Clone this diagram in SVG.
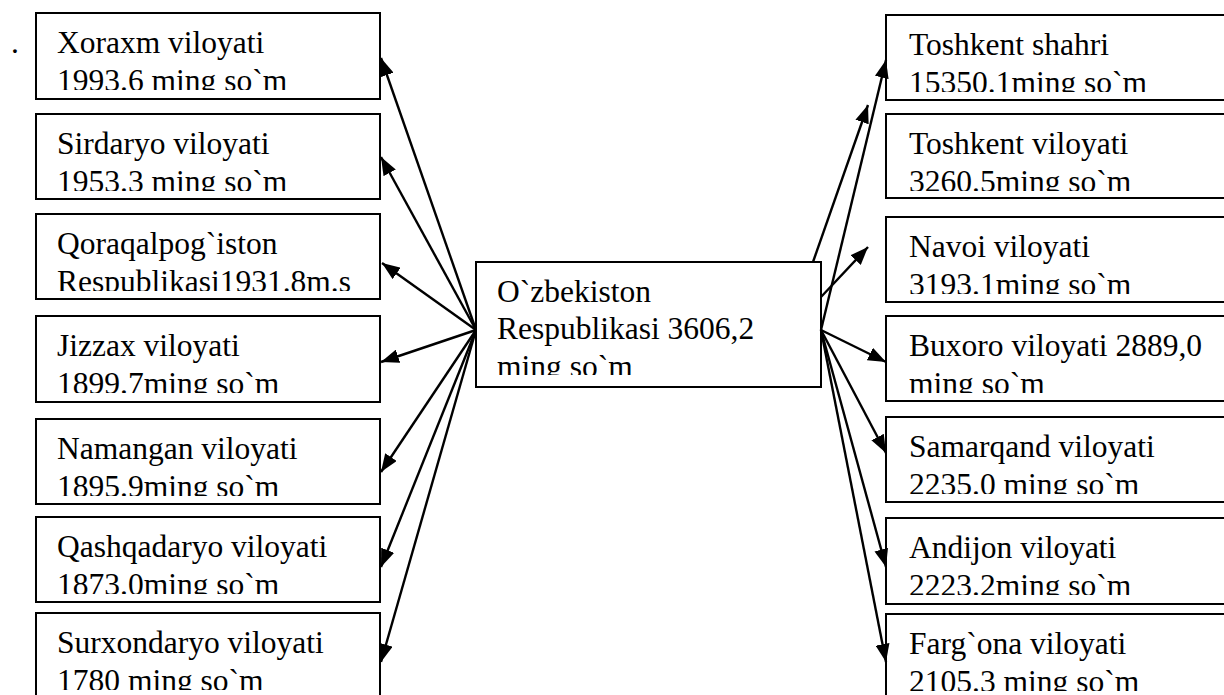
<svg xmlns="http://www.w3.org/2000/svg" width="1224" height="695" viewBox="0 0 1224 695">
<style>
.box{fill:#fff;stroke:#000;stroke-width:2}
.t{font-family:"Liberation Serif","Times New Roman",serif;font-size:31.5px;fill:#000}
.c{stroke:#000;stroke-width:2.4;fill:none;marker-end:url(#ah)}
</style>
<defs>
<marker id="ah" markerUnits="userSpaceOnUse" markerWidth="18" markerHeight="14" refX="18" refY="7" orient="auto">
<path d="M0,0 L18,7 L0,14 z" fill="#000"/>
</marker>
<clipPath id="k1"><rect x="36" y="13" width="344" height="77"/></clipPath>
<clipPath id="k2"><rect x="36" y="114" width="344" height="77"/></clipPath>
<clipPath id="k3"><rect x="36" y="214" width="344" height="77"/></clipPath>
<clipPath id="k4"><rect x="36" y="316" width="344" height="77"/></clipPath>
<clipPath id="k5"><rect x="36" y="419" width="344" height="77"/></clipPath>
<clipPath id="k6"><rect x="36" y="517" width="344" height="77"/></clipPath>
<clipPath id="k7"><rect x="36" y="613" width="344" height="77"/></clipPath>
<clipPath id="r1"><rect x="886" y="15" width="340" height="77"/></clipPath>
<clipPath id="r2"><rect x="886" y="114" width="340" height="77"/></clipPath>
<clipPath id="r3"><rect x="886" y="217" width="340" height="77"/></clipPath>
<clipPath id="r4"><rect x="886" y="316" width="340" height="77"/></clipPath>
<clipPath id="r5"><rect x="886" y="417" width="340" height="77"/></clipPath>
<clipPath id="r6"><rect x="886" y="518" width="340" height="77"/></clipPath>
<clipPath id="r7"><rect x="886" y="614" width="340" height="77"/></clipPath>
<clipPath id="kc"><rect x="476" y="262" width="345" height="113"/></clipPath>
</defs>
<rect width="1224" height="695" fill="#fff"/>
<text class="t" x="11" y="53">.</text>

<g id="center">
<rect class="box" x="476" y="262" width="345" height="125"/>
<text class="t" clip-path="url(#kc)"><tspan x="497" y="302">O`zbekiston</tspan><tspan x="497" y="338.5">Respublikasi 3606,2</tspan><tspan x="497" y="377">ming so`m</tspan></text>
</g>

<g id="xoraxm"><rect class="box" x="36" y="13" width="344" height="86"/><text class="t" clip-path="url(#k1)"><tspan x="57" y="53">Xoraxm viloyati</tspan><tspan x="57" y="91">1993.6 ming so`m</tspan></text></g>
<g id="sirdaryo"><rect class="box" x="36" y="114" width="344" height="85"/><text class="t" clip-path="url(#k2)"><tspan x="57" y="154">Sirdaryo viloyati</tspan><tspan x="57" y="192">1953.3 ming so`m</tspan></text></g>
<g id="qoraqalpogiston"><rect class="box" x="36" y="214" width="344" height="85"/><text class="t" clip-path="url(#k3)"><tspan x="57" y="254">Qoraqalpog`iston</tspan><tspan x="57" y="292">Respublikasi1931.8m.s</tspan></text></g>
<g id="jizzax"><rect class="box" x="36" y="316" width="344" height="86"/><text class="t" clip-path="url(#k4)"><tspan x="57" y="356">Jizzax viloyati</tspan><tspan x="57" y="394">1899.7ming so`m</tspan></text></g>
<g id="namangan"><rect class="box" x="36" y="419" width="344" height="85"/><text class="t" clip-path="url(#k5)"><tspan x="57" y="459">Namangan viloyati</tspan><tspan x="57" y="497">1895.9ming so`m</tspan></text></g>
<g id="qashqadaryo"><rect class="box" x="36" y="517" width="344" height="85"/><text class="t" clip-path="url(#k6)"><tspan x="57" y="557">Qashqadaryo viloyati</tspan><tspan x="57" y="595">1873.0ming so`m</tspan></text></g>
<g id="surxondaryo"><rect class="box" x="36" y="613" width="344" height="100"/><text class="t" clip-path="url(#k7)"><tspan x="57" y="653">Surxondaryo viloyati</tspan><tspan x="57" y="691">1780 ming so`m</tspan></text></g>

<g id="toshkent-shahri"><rect class="box" x="886" y="15" width="345" height="85"/><text class="t" clip-path="url(#r1)"><tspan x="909" y="55">Toshkent shahri</tspan><tspan x="909" y="93">15350.1ming so`m</tspan></text></g>
<g id="toshkent-viloyati"><rect class="box" x="886" y="114" width="345" height="84"/><text class="t" clip-path="url(#r2)"><tspan x="909" y="154">Toshkent viloyati</tspan><tspan x="909" y="192">3260.5ming so`m</tspan></text></g>
<g id="navoi"><rect class="box" x="886" y="217" width="345" height="85"/><text class="t" clip-path="url(#r3)"><tspan x="909" y="257">Navoi viloyati</tspan><tspan x="909" y="295">3193.1ming so`m</tspan></text></g>
<g id="buxoro"><rect class="box" x="886" y="316" width="345" height="85"/><text class="t" clip-path="url(#r4)"><tspan x="909" y="356">Buxoro viloyati 2889,0</tspan><tspan x="909" y="394">ming so`m</tspan></text></g>
<g id="samarqand"><rect class="box" x="886" y="417" width="345" height="85"/><text class="t" clip-path="url(#r5)"><tspan x="909" y="457">Samarqand viloyati</tspan><tspan x="909" y="495">2235.0 ming so`m</tspan></text></g>
<g id="andijon"><rect class="box" x="886" y="518" width="345" height="86"/><text class="t" clip-path="url(#r6)"><tspan x="909" y="558">Andijon viloyati</tspan><tspan x="909" y="596">2223.2ming so`m</tspan></text></g>
<g id="fargona"><rect class="box" x="886" y="614" width="345" height="100"/><text class="t" clip-path="url(#r7)"><tspan x="909" y="654">Farg`ona viloyati</tspan><tspan x="909" y="692">2105.3 ming so`m</tspan></text></g>

<g id="connectors">
<line class="c" x1="476" y1="330" x2="381" y2="58"/>
<line class="c" x1="476" y1="330" x2="381" y2="157"/>
<line class="c" x1="476" y1="330" x2="382" y2="263"/>
<line class="c" x1="476" y1="330" x2="381" y2="362"/>
<line class="c" x1="476" y1="330" x2="381" y2="472"/>
<line class="c" x1="476" y1="330" x2="381" y2="567"/>
<line class="c" x1="476" y1="330" x2="381" y2="662"/>
<line class="c" x1="821" y1="330" x2="886" y2="60"/>
<line class="c" x1="813" y1="262" x2="868" y2="105"/>
<line class="c" x1="821" y1="297" x2="868" y2="247"/>
<line class="c" x1="821" y1="330" x2="886" y2="362"/>
<line class="c" x1="821" y1="330" x2="886" y2="453"/>
<line class="c" x1="821" y1="330" x2="886" y2="567"/>
<line class="c" x1="821" y1="330" x2="886" y2="662"/>
</g>
</svg>
